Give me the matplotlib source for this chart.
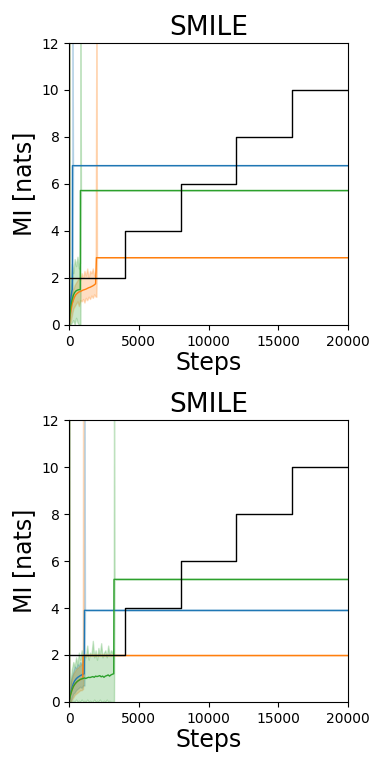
import matplotlib
matplotlib.use("Agg")
import matplotlib.pyplot as plt
import numpy as np

# ---------------- data ----------------
true_steps = [0, 4000, 8000, 12000, 16000, 20000]
true_mi = [2, 4, 6, 8, 10, 10]

# ---- top panel ----
top_blue_steps = [0, 15, 50, 100, 150, 200, 230]
top_blue_mean = [0.0, 0.2, 0.7, 1.0, 1.25, 1.45, 1.5]
top_blue_lo = [0.0, 0.0, 0.3, 0.55, 0.8, 1.0, 1.0]
top_blue_hi = [14.0, 0.5, 1.1, 1.45, 1.7, 1.9, 2.0]
top_blue_jump = 240
top_blue_final = 6.78

top_green_steps = [0, 15, 100, 200, 300, 400, 500, 600, 700, 800]
top_green_mean = [0.0, 0.1, 0.75, 1.05, 1.25, 1.38, 1.45, 1.48, 1.5, 1.5]
top_green_lo = [0.0, 0.0, 0.0, 0.1, 0.2, 0.0, 0.3, 0.1, 0.0, 0.0]
top_green_hi = [14.0, 0.4, 1.8, 2.6, 2.2, 2.8, 2.5, 2.9, 2.4, 2.7]
top_green_jump = 810
top_green_final = 5.72

top_orange_steps = [0, 15, 100, 200, 300, 400, 500, 600, 700, 800, 900, 1000,
                    1100, 1200, 1300, 1400, 1500, 1600, 1700, 1800, 1900]
top_orange_mean = [0.0, 0.1, 0.5, 0.85, 1.05, 1.2, 1.3, 1.35, 1.4, 1.42, 1.45, 1.48,
                   1.5, 1.52, 1.55, 1.58, 1.6, 1.63, 1.66, 1.7, 1.75]
top_orange_lo = [0.0, 0.0, 0.1, 0.4, 0.7, 0.8, 0.9, 1.0, 0.8, 1.05, 1.0, 1.1,
                 0.95, 1.15, 1.05, 1.2, 1.1, 1.25, 1.15, 1.3, 1.2]
top_orange_hi = [14.0, 0.3, 0.9, 1.3, 1.5, 1.7, 1.8, 1.9, 2.0, 1.9, 2.2, 2.0,
                 2.3, 2.1, 2.4, 2.0, 2.3, 2.2, 2.4, 2.1, 2.3]
top_orange_jump = 1960
top_orange_final = 2.86

# ---- bottom panel ----
bot_blue_steps = [0, 15, 100, 200, 300, 400, 500, 600, 700, 800, 900, 1000, 1080]
bot_blue_mean = [0.0, 0.05, 0.35, 0.6, 0.78, 0.9, 0.98, 1.04, 1.08, 1.12, 1.15, 1.18, 1.2]
bot_blue_lo = [0.0, 0.0, 0.0, 0.2, 0.35, 0.4, 0.5, 0.55, 0.6, 0.65, 0.6, 0.7, 0.7]
bot_blue_hi = [14.0, 0.2, 0.8, 1.1, 1.3, 1.5, 1.45, 1.6, 1.55, 1.7, 1.6, 1.75, 1.8]
bot_blue_jump = 1100
bot_blue_final = 3.9

bot_orange_steps = [0, 15, 100, 200, 300, 400, 500, 600, 700, 800, 900, 980]
bot_orange_mean = [0.0, 0.05, 0.3, 0.5, 0.65, 0.75, 0.82, 0.88, 0.92, 0.95, 0.98, 1.0]
bot_orange_lo = [0.0, 0.0, 0.0, 0.1, 0.2, 0.3, 0.35, 0.4, 0.45, 0.5, 0.5, 0.55]
bot_orange_hi = [14.0, 0.2, 0.7, 1.0, 1.2, 1.3, 1.4, 1.45, 1.5, 1.55, 1.6, 1.6]
bot_orange_jump = 1000
bot_orange_final = 1.98

bot_green_steps = [0, 15, 100, 200, 300, 400, 500, 600, 700, 800, 900, 1000,
                   1100, 1200, 1300, 1400, 1500, 1600, 1700, 1800, 1900, 2000,
                   2100, 2200, 2300, 2400, 2500, 2600, 2700, 2800, 2900, 3000,
                   3100, 3200]
bot_green_mean = [0.0, 0.05, 0.3, 0.5, 0.65, 0.75, 0.82, 0.88, 0.92, 0.96, 0.98, 1.0,
                  1.02, 1.0, 1.03, 1.05, 1.04, 1.06, 1.08, 1.05, 1.1, 1.08,
                  1.1, 1.12, 1.07, 1.1, 1.05, 1.1, 1.12, 1.15, 1.1, 1.15,
                  1.18, 1.2]
bot_green_lo = [0.0, 0.0, 0.0, 0.0, 0.05, 0.0, 0.1, 0.0, 0.05, 0.0, 0.1, 0.0,
                0.05, 0.0, 0.1, 0.0, 0.05, 0.0, 0.0, 0.1, 0.0, 0.05,
                0.0, 0.1, 0.0, 0.0, 0.05, 0.0, 0.1, 0.0, 0.05, 0.0,
                0.0, 0.0]
bot_green_hi = [14.0, 0.2, 0.9, 1.4, 1.7, 1.5, 1.9, 1.6, 2.1, 1.8, 2.2, 1.7,
                2.0, 1.9, 2.4, 1.8, 2.1, 2.0, 2.6, 1.9, 2.2, 1.8,
                2.3, 2.0, 2.5, 1.9, 2.1, 2.2, 1.9, 2.4, 2.0, 2.2,
                2.1, 2.3]
bot_green_jump = 3220
bot_green_final = 5.22

SPIKE = 14.0
END = 20000

def series(steps, mean, lo, hi, jump, final):
    s = list(steps) + [jump, jump + 40, END]
    m = list(mean) + [final, final, final]
    l = list(lo) + [lo[-1], final, final]
    h = list(hi) + [SPIKE, final, final]
    return np.array(s), np.array(m), np.array(l), np.array(h)

top = [
    ("C0", series(top_blue_steps, top_blue_mean, top_blue_lo, top_blue_hi, top_blue_jump, top_blue_final)),
    ("C1", series(top_orange_steps, top_orange_mean, top_orange_lo, top_orange_hi, top_orange_jump, top_orange_final)),
    ("C2", series(top_green_steps, top_green_mean, top_green_lo, top_green_hi, top_green_jump, top_green_final)),
]
bottom = [
    ("C0", series(bot_blue_steps, bot_blue_mean, bot_blue_lo, bot_blue_hi, bot_blue_jump, bot_blue_final)),
    ("C1", series(bot_orange_steps, bot_orange_mean, bot_orange_lo, bot_orange_hi, bot_orange_jump, bot_orange_final)),
    ("C2", series(bot_green_steps, bot_green_mean, bot_green_lo, bot_green_hi, bot_green_jump, bot_green_final)),
]

fig = plt.figure(figsize=(3.84, 7.68), dpi=100)
ax1 = fig.add_axes([0.18, 0.577, 0.726, 0.367])
ax2 = fig.add_axes([0.18, 0.086, 0.726, 0.367])

for ax, data in [(ax1, top), (ax2, bottom)]:
    for color, (s, m, l, h) in data:
        ax.fill_between(s, l, h, color=color, alpha=0.25, linewidth=1.0)
        ax.plot(s, m, color=color, linewidth=1.0)
    ax.step(true_steps, true_mi, where="post", color="black", linewidth=1.0)
    ax.set_xlim(0, 20000)
    ax.set_ylim(0, 12)
    ax.set_xticks([0, 5000, 10000, 15000, 20000])
    ax.set_yticks([0, 2, 4, 6, 8, 10, 12])
    ax.tick_params(labelsize=10)
    ax.set_title("SMILE", fontsize=19)
    ax.set_xlabel("Steps", fontsize=17, labelpad=2)
    ax.set_ylabel("MI [nats]", fontsize=17)

fig.savefig("out.png", dpi=100)
